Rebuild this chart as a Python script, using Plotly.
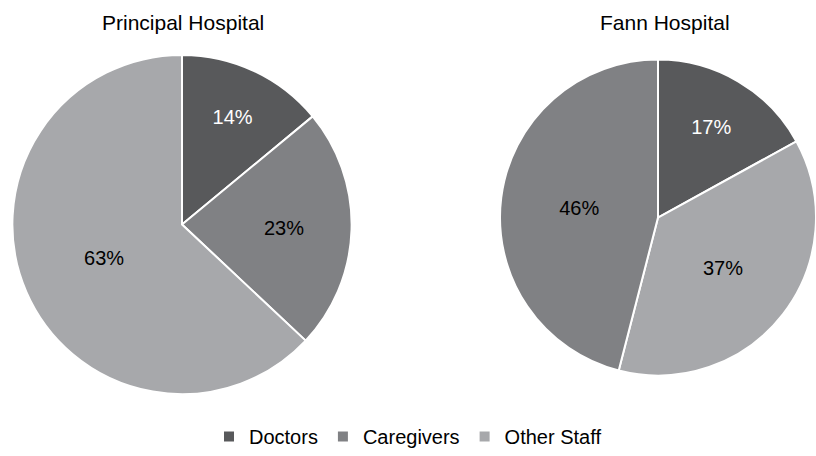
import plotly.graph_objects as go

# Staff composition per hospital (percent)
hospitals = ["Principal Hospital", "Fann Hospital"]

principal_labels = ["Doctors", "Caregivers", "Other Staff"]
principal_values = [14, 23, 63]

fann_labels = ["Doctors", "Other Staff", "Caregivers"]
fann_values = [17, 37, 46]

colors = {"Doctors": "#58595b", "Caregivers": "#808184", "Other Staff": "#a7a8ab"}
text_colors = {"Doctors": "white", "Caregivers": "black", "Other Staff": "black"}

FONT = "Liberation Sans, Arial, Helvetica, sans-serif"
W, H = 816, 456


def pie(labels, values, domain):
    return go.Pie(
        labels=labels,
        values=values,
        sort=False,
        direction="clockwise",
        rotation=0,
        domain=domain,
        marker=dict(colors=[colors[l] for l in labels],
                    line=dict(color="white", width=2)),
        texttemplate="%{value}%",
        textposition="inside",
        insidetextorientation="horizontal",
        textfont=dict(family=FONT, size=20,
                      color=[text_colors[l] for l in labels]),
        hoverinfo="label+value",
    )


fig = go.Figure()
fig.add_trace(pie(principal_labels, principal_values,
                  dict(x=[12 / W, 352 / W], y=[1 - 395 / H, 1 - 55 / H])))
fig.add_trace(pie(fann_labels, fann_values,
                  dict(x=[500 / W, 1.0], y=[1 - 381 / H, 1 - 55 / H])))

title_x = [183 / W, 665 / W]
for name, x in zip(hospitals, title_x):
    fig.add_annotation(text=name, x=x, y=1 - 23 / H, xref="paper", yref="paper",
                       showarrow=False, xanchor="center", yanchor="middle",
                       font=dict(family=FONT, size=21, color="black"))

fig.update_layout(
    width=W, height=H,
    margin=dict(l=0, r=0, t=0, b=0),
    paper_bgcolor="white",
    plot_bgcolor="white",
    font=dict(family=FONT, size=20, color="black"),
    showlegend=True,
    legend=dict(orientation="h", x=0.5, xanchor="center", y=1 - 437 / H,
                yanchor="middle", font=dict(family=FONT, size=20),
                traceorder="normal", itemclick=False),
)

fig.write_html("out.html")
